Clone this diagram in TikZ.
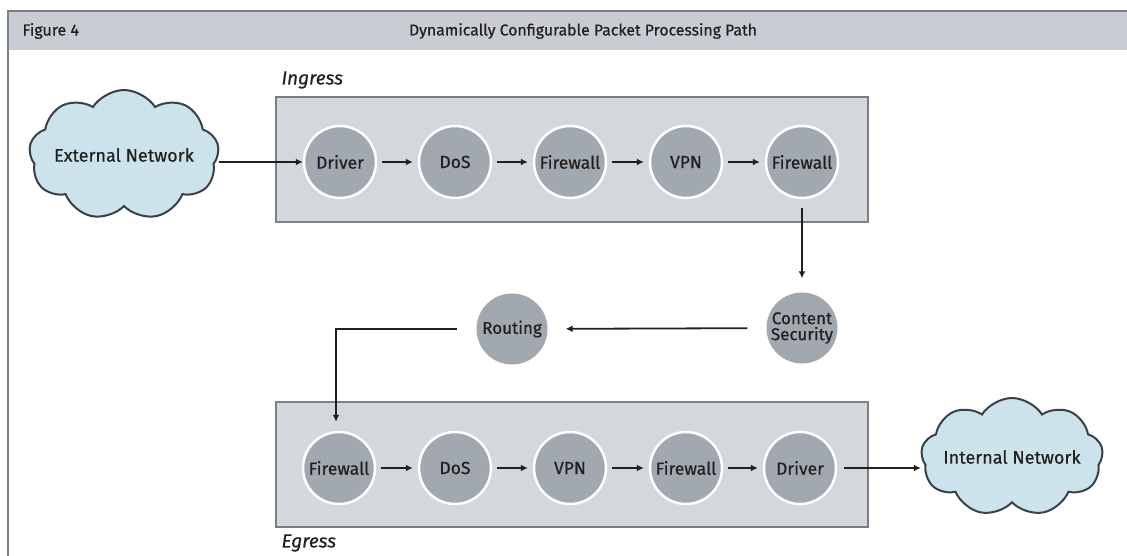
\documentclass[tikz,border=0pt]{standalone}
\usepackage{fontspec}
\setmainfont{Fira Sans}[FakeBold=0.5]
\usetikzlibrary{shapes.symbols,arrows.meta}
\definecolor{framecol}{HTML}{7A8086}
\definecolor{bandcol}{HTML}{C9CCD3}
\definecolor{boxfill}{HTML}{D4D7DC}
\definecolor{procgray}{HTML}{A2A8AF}
\definecolor{cloudfill}{HTML}{CDE3EC}
\definecolor{cloudline}{HTML}{3A4047}
\definecolor{txtcol}{HTML}{231F20}
\tikzset{
  proc/.style={circle, fill=procgray, draw=white, line width=2.5pt, minimum size=72pt, inner sep=0pt, font=\fontsize{17.5}{18}\selectfont, text=txtcol},
  procfree/.style={circle, fill=procgray, minimum size=71pt, inner sep=0pt, font=\fontsize{17}{16}\selectfont, text=txtcol, align=center},
  grp/.style={draw=framecol, fill=boxfill, line width=2pt},
  netcloud/.style={cloud, cloud puffs=9, cloud puff arc=115, cloud ignores aspect, draw=cloudline, fill=cloudfill, line width=2pt, font=\fontsize{18}{18}\selectfont, text=txtcol, inner xsep=-30pt, inner ysep=-10pt},
  conn/.style={-{Latex[length=7pt,width=7pt]}, line width=1.8pt, draw=txtcol},
  grplabel/.style={font=\itshape\fontsize{19}{20}\selectfont, text=txtcol, anchor=west},
}
\begin{document}
\begin{tikzpicture}[x=1pt,y=-1pt]
\useasboundingbox (0,0) rectangle (1127,556);
% frame
\fill[bandcol] (8,11) rectangle (1127,50);
\draw[framecol, line width=2.5pt] (8,556) -- (8,11) -- (1127,11);
\node[anchor=west, font=\fontsize{16}{16}\selectfont, text=txtcol] (figlab) at (19,31) {Figure 4};
\node[font=\fontsize{15.8}{16}\selectfont, text=txtcol] (title) at (583,31) {Dynamically Configurable Packet Processing Path};
% groups
\draw[grp] (276,97) rectangle (868,222);
\node[grplabel] (inglab) at (278,80) {Ingress};
\draw[grp] (276,402) rectangle (868,527);
\node[grplabel] (eglab) at (278,543) {Egress};
% ingress nodes
\node[proc] (i1) at (340,162) {Driver};
\node[proc] (i2) at (455,162) {DoS};
\node[proc] (i3) at (570,162) {Firewall};
\node[proc] (i4) at (686,162) {VPN};
\node[proc] (i5) at (802,162) {Firewall};
% middle
\node[procfree] (cs) at (802,328) {Content\\Security};
\node[procfree] (rt) at (512,329) {Routing};
% egress nodes
\node[proc] (e1) at (339,468) {Firewall};
\node[proc] (e2) at (455,468) {DoS};
\node[proc] (e3) at (570,468) {VPN};
\node[proc] (e4) at (686,468) {Firewall};
\node[proc] (e5) at (800,468) {Driver};
% clouds
\node[netcloud, minimum width=190pt, minimum height=130pt] (ext) at (124,155) {External Network};
\node[netcloud, minimum width=182pt, minimum height=118pt] (int) at (1012,457) {Internal Network};
\coordinate (bend) at (336,329);
% connectors
\draw[conn] (ext.east |- i1) -- (i1.west);
\draw[conn, shorten <=5pt, shorten >=5pt] (i1) -- (i2);
\draw[conn, shorten <=5pt, shorten >=5pt] (i2) -- (i3);
\draw[conn, shorten <=5pt, shorten >=5pt] (i3) -- (i4);
\draw[conn, shorten <=5pt, shorten >=5pt] (i4) -- (i5);
\draw[conn, shorten <=9pt, shorten >=14pt] (i5) -- (cs);
\draw[conn, shorten <=19pt, shorten >=18pt] (cs) -- (rt);
\draw[conn, shorten <=19pt, shorten >=9pt] (rt.west) -- (bend) -- (bend |- e1.north);
\draw[conn, shorten <=5pt, shorten >=5pt] (e1) -- (e2);
\draw[conn, shorten <=5pt, shorten >=5pt] (e2) -- (e3);
\draw[conn, shorten <=5pt, shorten >=5pt] (e3) -- (e4);
\draw[conn, shorten <=5pt, shorten >=5pt] (e4) -- (e5);
\draw[conn, shorten <=7pt] (e5) -- (int.west |- e5);
\end{tikzpicture}
\end{document}
